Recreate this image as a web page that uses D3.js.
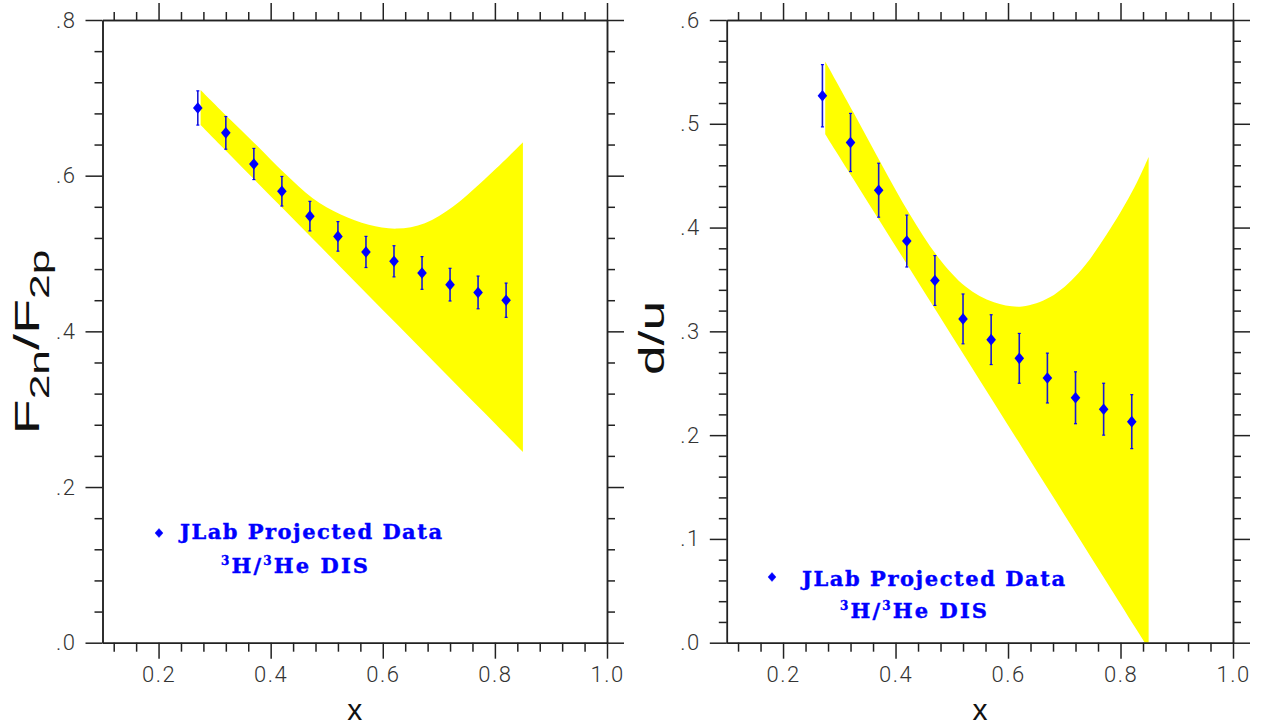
<!DOCTYPE html>
<html>
<head>
<meta charset="utf-8">
<script src="https://cdn.jsdelivr.net/npm/d3@7"></script>
<style>
  body { margin: 0; background: #fff; }
  svg { display: block; }
</style>
</head>
<body>
<div id="chart"></div>
<script>
// x positions of the projected data points
const xPoints = [0.27, 0.32, 0.37, 0.42, 0.47, 0.52, 0.57, 0.62, 0.67, 0.72, 0.77, 0.82];

// F2n/F2p projected values and errors
const f2Ratio = [0.687, 0.655, 0.615, 0.580, 0.548, 0.522, 0.502, 0.490, 0.475, 0.460, 0.450, 0.440];
const f2Err   = [0.022, 0.021, 0.020, 0.019, 0.019, 0.019, 0.020, 0.020, 0.021, 0.021, 0.021, 0.022];

// d/u projected values and errors
const duRatio = [0.527, 0.482, 0.436, 0.387, 0.349, 0.312, 0.292, 0.274, 0.255, 0.236, 0.225, 0.213];
const duErr   = [0.030, 0.028, 0.026, 0.025, 0.024, 0.024, 0.024, 0.024, 0.024, 0.025, 0.025, 0.026];

// yellow model band: upper edge samples
const bandX     = [0.275, 0.325, 0.375, 0.425, 0.475, 0.525, 0.575, 0.625, 0.675, 0.725, 0.775, 0.825, 0.85];
const f2Upper   = [0.710, 0.674, 0.639, 0.603, 0.571, 0.550, 0.537, 0.532, 0.539, 0.560, 0.591, 0.625, 0.643];
const duUpper   = [0.560, 0.511, 0.461, 0.413, 0.372, 0.343, 0.328, 0.324, 0.333, 0.356, 0.393, 0.439, 0.468];
// lower edge is a straight line between its ends
const lowerX    = [0.275, 0.85];
const f2Lower   = [0.665, 0.245];
const duLower   = [0.490, -0.006];

// axis ticks
const xMajor = [0.2, 0.4, 0.6, 0.8, 1.0];
const f2YMajor = [0, 0.2, 0.4, 0.6, 0.8];
const duYMajor = [0, 0.1, 0.2, 0.3, 0.4, 0.5, 0.6];

const width = 1262;
const height = 725;
const axisColor = "#222";
const blue = "#0000ff";

const svg = d3.select("#chart")
  .append("svg")
  .attr("width", width)
  .attr("height", height);

svg.append("rect").attr("width", width).attr("height", height).attr("fill", "#fff");

function minorTicks(lo, hi, step, majors) {
  return d3.range(Math.round((hi - lo) / step) + 1)
    .map(i => +(lo + i * step).toFixed(4))
    .filter(v => !majors.some(m => Math.abs(m - v) < 1e-6));
}

const yFmt = d => d3.format(".1f")(d).replace(/^0/, "");

function styleAxis(g, showText) {
  g.select(".domain").attr("stroke", axisColor).attr("stroke-width", 1.5);
  g.selectAll(".tick line").attr("stroke", axisColor).attr("stroke-width", 1.5);
  g.selectAll(".tick text")
    .attr("fill", "#333")
    .style("font-family", "Roboto, 'Liberation Sans', sans-serif")
    .style("font-weight", 300)
    .style("font-size", "22px")
    .style("letter-spacing", "1.5px")
    .style("display", showText ? null : "none");
}

function drawPanel(cfg) {
  const x = d3.scaleLinear().domain([0.1, 1.0]).range([cfg.left, cfg.right]);
  const y = d3.scaleLinear().domain(cfg.yDomain).range([642.7, 20]);

  const clipId = "clip-" + cfg.id;
  svg.append("clipPath").attr("id", clipId)
    .append("rect")
    .attr("x", cfg.left).attr("y", 20)
    .attr("width", cfg.right - cfg.left).attr("height", 622.7);

  // band
  const lower = d3.scaleLinear().domain(lowerX).range(cfg.lower);
  const area = d3.area()
    .x((d, i) => x(bandX[i]))
    .y0((d, i) => y(lower(bandX[i])))
    .y1(d => y(d))
    .curve(d3.curveCatmullRom);

  svg.append("path")
    .datum(cfg.upper)
    .attr("clip-path", `url(#${clipId})`)
    .attr("fill", "#ffff00")
    .attr("d", area);

  // axes
  const xMinor = minorTicks(0.12, 0.96, 0.04, xMajor);
  const yMinor = minorTicks(cfg.yDomain[0], cfg.yDomain[1], cfg.yMinorStep, cfg.yMajor);

  const bottom = svg.append("g").attr("transform", `translate(0,${y(cfg.yDomain[0])})`);
  bottom.append("g").call(d3.axisBottom(x).tickValues(xMinor).tickSize(9).tickSizeOuter(0).tickFormat(""))
    .call(g => styleAxis(g, false));
  bottom.append("g").call(d3.axisBottom(x).tickValues(xMajor).tickSize(16).tickSizeOuter(0).tickPadding(8).tickFormat(d3.format(".1f")))
    .call(g => styleAxis(g, true));

  const top = svg.append("g").attr("transform", `translate(0,${y(cfg.yDomain[1])})`);
  top.append("g").call(d3.axisTop(x).tickValues(xMinor).tickSize(8).tickSizeOuter(0).tickFormat(""))
    .call(g => styleAxis(g, false));
  top.append("g").call(d3.axisTop(x).tickValues(xMajor).tickSize(17).tickSizeOuter(0).tickFormat(""))
    .call(g => styleAxis(g, false));

  const leftAx = svg.append("g").attr("transform", `translate(${cfg.left},0)`);
  leftAx.append("g").call(d3.axisLeft(y).tickValues(yMinor).tickSize(8).tickSizeOuter(0).tickFormat(""))
    .call(g => styleAxis(g, false));
  leftAx.append("g").call(d3.axisLeft(y).tickValues(cfg.yMajor).tickSize(17).tickSizeOuter(0).tickPadding(9).tickFormat(yFmt))
    .call(g => styleAxis(g, true));

  const rightAx = svg.append("g").attr("transform", `translate(${cfg.right},0)`);
  rightAx.append("g").call(d3.axisRight(y).tickValues(yMinor).tickSize(8).tickSizeOuter(0).tickFormat(""))
    .call(g => styleAxis(g, false));
  rightAx.append("g").call(d3.axisRight(y).tickValues(cfg.yMajor).tickSize(17).tickSizeOuter(0).tickFormat(""))
    .call(g => styleAxis(g, false));

  // data points with error bars
  const pts = xPoints.map((xv, i) => ({ x: xv, v: cfg.values[i], e: cfg.errors[i] }));
  const pg = svg.append("g");
  pg.selectAll(".err")
    .data(pts)
    .enter().append("line")
    .attr("class", "err")
    .attr("x1", d => x(d.x)).attr("x2", d => x(d.x))
    .attr("y1", d => y(d.v - d.e)).attr("y2", d => y(d.v + d.e))
    .attr("stroke", "#1a1ad0").attr("stroke-width", 1.6);
  ["lo", "hi"].forEach(k => {
    pg.selectAll(".cap-" + k)
      .data(pts)
      .enter().append("line")
      .attr("x1", d => x(d.x) - 1.5).attr("x2", d => x(d.x) + 1.5)
      .attr("y1", d => y(k === "lo" ? d.v - d.e : d.v + d.e))
      .attr("y2", d => y(k === "lo" ? d.v - d.e : d.v + d.e))
      .attr("stroke", blue).attr("stroke-width", 1.2);
  });
  pg.selectAll(".pt")
    .data(pts)
    .enter().append("path")
    .attr("class", "pt")
    .attr("d", "M0,-5.8L4.8,0L0,5.8L-4.8,0Z")
    .attr("transform", d => `translate(${x(d.x)},${y(d.v)})`)
    .attr("fill", blue);

  // legend
  const lg = svg.append("g").attr("fill", blue)
    .attr("stroke", blue).attr("stroke-width", 0.4)
    .style("font-family", "'DejaVu Serif', 'Liberation Serif', serif")
    .style("font-weight", "bold")
    .style("font-size", "21px");
  lg.append("path")
    .attr("d", "M0,-4.5L4,0L0,4.5L-4,0Z")
    .attr("transform", `translate(${cfg.legend.mx},${cfg.legend.my})`);
  lg.append("text")
    .attr("x", cfg.legend.x1).attr("y", cfg.legend.y1)
    .attr("textLength", cfg.legend.w1).attr("lengthAdjust", "spacing")
    .text("JLab Projected Data");
  const t2 = lg.append("text")
    .attr("x", cfg.legend.x2).attr("y", cfg.legend.y2)
    .attr("textLength", cfg.legend.w2).attr("lengthAdjust", "spacing");
  t2.append("tspan").attr("font-size", 12).attr("dy", -8).text("3");
  t2.append("tspan").attr("dy", 8).text("H/");
  t2.append("tspan").attr("font-size", 12).attr("dy", -8).text("3");
  t2.append("tspan").attr("dy", 8).text("He DIS");

  // axis titles
  svg.append("text")
    .attr("x", (cfg.left + cfg.right) / 2).attr("y", 720)
    .attr("text-anchor", "middle")
    .attr("fill", "#111")
    .style("font-family", "'Liberation Sans', Arial, sans-serif")
    .style("font-size", "30px")
    .text("x");

  const yt = svg.append("text")
    .attr("transform", `translate(${cfg.titleX},${cfg.titleY}) rotate(-90)`)
    .attr("text-anchor", "middle")
    .attr("textLength", cfg.titleLen).attr("lengthAdjust", "spacingAndGlyphs")
    .attr("fill", "#111")
    .style("font-family", "'Liberation Sans', Arial, sans-serif")
    .style("font-size", "35px");
  cfg.title(yt);
}

drawPanel({
  id: "f2",
  left: 102.5, right: 607,
  yDomain: [0, 0.8], yMajor: f2YMajor, yMinorStep: 0.04,
  values: f2Ratio, errors: f2Err,
  upper: f2Upper, lower: f2Lower,
  legend: { mx: 159, my: 533, x1: 180, y1: 539, w1: 262, x2: 221, y2: 573, w2: 147 },
  titleX: 39, titleY: 342, titleLen: 185,
  title: t => {
    t.append("tspan").text("F");
    t.append("tspan").attr("font-size", 27).attr("dy", 10).text("2n");
    t.append("tspan").attr("dy", -10).text("/F");
    t.append("tspan").attr("font-size", 27).attr("dy", 10).text("2p");
  }
});

drawPanel({
  id: "du",
  left: 726.8, right: 1233,
  yDomain: [0, 0.6], yMajor: duYMajor, yMinorStep: 0.02,
  values: duRatio, errors: duErr,
  upper: duUpper, lower: duLower,
  legend: { mx: 772, my: 577, x1: 802, y1: 586, w1: 263, x2: 840, y2: 618, w2: 147 },
  titleX: 664, titleY: 338, titleLen: 74,
  title: t => t.text("d/u")
});
</script>
</body>
</html>
